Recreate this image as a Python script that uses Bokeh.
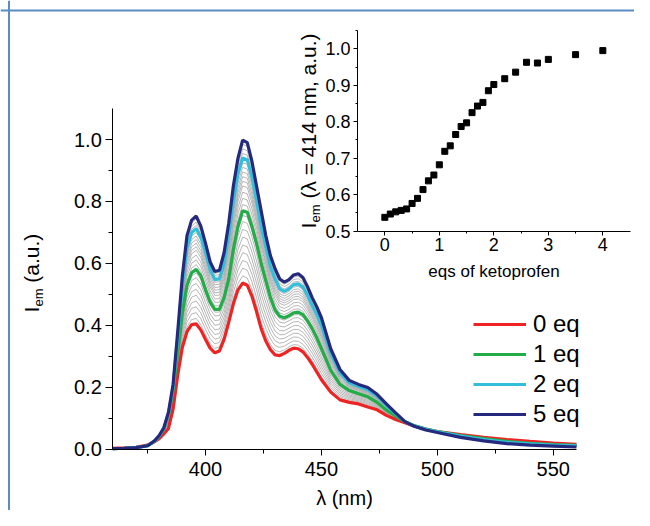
import numpy as np
from bokeh.plotting import figure
from bokeh.models import Range1d, LinearAxis, FixedTicker, Legend, LegendItem, Label, Span
from bokeh.embed import file_html
from bokeh.resources import INLINE

# ---------------- data ----------------
wavelength = [360, 365, 370, 375, 378,
              380, 382, 384, 386, 388, 390, 392, 394, 396, 398,
              400, 402, 404, 406, 408, 410, 412, 414, 416, 418,
              420, 422, 424, 426, 428, 430, 432, 434, 436, 438,
              440, 442, 444, 446, 448, 450,
              454, 458, 462, 466, 470, 474, 478, 482, 486, 490,
              495, 500, 510, 520, 530, 540, 550, 560]

em_0eq = [0.004, 0.005, 0.007, 0.014, 0.025,
          0.035, 0.050, 0.068, 0.130, 0.240, 0.330, 0.380, 0.403, 0.405, 0.385,
          0.355, 0.327, 0.312, 0.318, 0.355, 0.410, 0.470, 0.515, 0.537, 0.530,
          0.495, 0.445, 0.390, 0.350, 0.322, 0.305, 0.303, 0.310, 0.320, 0.327,
          0.325, 0.315, 0.297, 0.275, 0.250, 0.225,
          0.185, 0.160, 0.152, 0.147, 0.137, 0.128, 0.110, 0.097, 0.086, 0.076,
          0.066, 0.058, 0.048, 0.039, 0.032, 0.026, 0.021, 0.017]

em_1eq = [0.003, 0.004, 0.006, 0.012, 0.026,
          0.042, 0.065, 0.110, 0.190, 0.310, 0.440, 0.530, 0.570, 0.581, 0.560,
          0.515, 0.475, 0.452, 0.452, 0.490, 0.550, 0.645, 0.720, 0.770, 0.765,
          0.720, 0.665, 0.600, 0.545, 0.490, 0.450, 0.430, 0.425, 0.432, 0.441,
          0.443, 0.435, 0.415, 0.390, 0.360, 0.325,
          0.255, 0.210, 0.190, 0.180, 0.170, 0.152, 0.127, 0.108, 0.090, 0.077,
          0.066, 0.058, 0.045, 0.035, 0.026, 0.020, 0.016, 0.013]

em_2eq = [0.003, 0.004, 0.006, 0.012, 0.027,
          0.044, 0.068, 0.115, 0.200, 0.360, 0.530, 0.650, 0.700, 0.712, 0.685,
          0.635, 0.580, 0.548, 0.550, 0.600, 0.690, 0.800, 0.890, 0.940, 0.935,
          0.880, 0.805, 0.720, 0.655, 0.590, 0.550, 0.518, 0.510, 0.518, 0.532,
          0.534, 0.524, 0.497, 0.465, 0.435, 0.400,
          0.310, 0.248, 0.215, 0.203, 0.193, 0.172, 0.142, 0.115, 0.090, 0.076,
          0.065, 0.057, 0.043, 0.032, 0.023, 0.018, 0.014, 0.012]

em_5eq = [0.003, 0.004, 0.006, 0.012, 0.028,
          0.045, 0.070, 0.120, 0.210, 0.380, 0.560, 0.690, 0.740, 0.753, 0.720,
          0.665, 0.605, 0.574, 0.578, 0.635, 0.730, 0.850, 0.940, 0.998, 0.990,
          0.930, 0.850, 0.770, 0.690, 0.625, 0.583, 0.550, 0.540, 0.548, 0.563,
          0.567, 0.555, 0.525, 0.490, 0.460, 0.425,
          0.325, 0.258, 0.223, 0.210, 0.200, 0.178, 0.147, 0.118, 0.090, 0.075,
          0.063, 0.055, 0.039, 0.028, 0.019, 0.014, 0.011, 0.008]

# main-peak heights of the intermediate (grey) titration spectra
grey_peaks = [0.56, 0.585, 0.61, 0.635, 0.66, 0.685, 0.71, 0.735, 0.755,
              0.79, 0.81, 0.83, 0.85, 0.865, 0.88, 0.895, 0.91, 0.925,
              0.955, 0.97, 0.985]

legend_labels = ["0 eq", "1 eq", "2 eq", "5 eq"]

# inset: titration curve
eqs = [0.0, 0.1, 0.2, 0.3, 0.4, 0.5, 0.6, 0.7, 0.8, 0.9, 1.0, 1.1, 1.2, 1.3,
       1.4, 1.5, 1.6, 1.7, 1.8, 1.9, 2.0, 2.2, 2.4, 2.6, 2.8, 3.0, 3.5, 4.0]
i414 = [0.538, 0.547, 0.553, 0.557, 0.561, 0.576, 0.590, 0.614, 0.638, 0.654,
        0.682, 0.719, 0.734, 0.765, 0.787, 0.797, 0.825, 0.843, 0.853, 0.885,
        0.902, 0.918, 0.936, 0.963, 0.961, 0.971, 0.984, 0.995]

main_xticks = [400, 450, 500, 550]
main_xminor = [375, 425, 475, 525]
main_yticks = [0.0, 0.2, 0.4, 0.6, 0.8, 1.0]
main_yminor = [0.1, 0.3, 0.5, 0.7, 0.9]
inset_xticks = [0, 1, 2, 3, 4]
inset_xminor = [0.5, 1.5, 2.5, 3.5]
inset_yticks = [0.5, 0.6, 0.7, 0.8, 0.9, 1.0]
inset_yminor = [0.55, 0.65, 0.75, 0.85, 0.95, 1.05]

# ---------------- figure ----------------
FONT = "Liberation Sans"
colors = ["#ee2424", "#22ad48", "#33bfd9", "#262a7e"]

# the frame fills the whole canvas; every axis is placed with fixed_location
p = figure(width=634, height=510, output_backend="svg", toolbar_location=None,
           x_range=Range1d(311.55, 585.05), y_range=Range1d(-0.1968, 1.4484),
           min_border=0, x_axis_type=None, y_axis_type=None)
p.outline_line_color = None
p.background_fill_color = "white"
p.border_fill_color = "white"
p.xgrid.visible = False
p.ygrid.visible = False
p.extra_x_ranges = {"ix": Range1d(-7.052, 4.581)}
p.extra_y_ranges = {"iy": Range1d(-0.2657, 1.1324)}

# thin blue page frame (top and left)
p.add_layout(Span(location=1.4161, dimension="width", line_color="#5b8cc4", line_width=2))
p.add_layout(Span(location=315.22, dimension="height", line_color="#5b8cc4", line_width=2))


def style_axis(ax, fsize, major_out, minor_out):
    ax.axis_line_color = "black"
    ax.axis_line_width = 1
    ax.major_tick_line_color = "black"
    ax.minor_tick_line_color = "black"
    ax.major_tick_in = 0
    ax.minor_tick_in = 0
    ax.major_tick_out = major_out
    ax.minor_tick_out = minor_out
    ax.major_label_text_font = FONT
    ax.major_label_text_font_size = fsize
    ax.major_label_text_color = "black"
    ax.axis_label_text_font = FONT
    ax.axis_label_text_font_style = "normal"
    ax.axis_label_text_color = "black"


xa = LinearAxis(fixed_location=0.0, bounds=(360, 560),
                ticker=FixedTicker(ticks=main_xticks, minor_ticks=main_xminor),
                axis_label="λ (nm)")
style_axis(xa, "20px", 6, 4)
xa.axis_label_text_font_size = "20px"
xa.major_label_standoff = 7
xa.axis_label_standoff = 7
p.add_layout(xa, "below")

ya = LinearAxis(fixed_location=360, bounds=(0, 1.1),
                ticker=FixedTicker(ticks=main_yticks, minor_ticks=main_yminor))
style_axis(ya, "20px", 7, 4)
ya.major_label_standoff = 4
ya.major_label_overrides = {t: f"{t:.1f}" for t in main_yticks}
p.add_layout(ya, "left")

# inset axes
ixa = LinearAxis(x_range_name="ix", y_range_name="iy", fixed_location=0.5,
                 bounds=(-0.5, 4.5),
                 ticker=FixedTicker(ticks=inset_xticks, minor_ticks=inset_xminor),
                 axis_label="eqs of ketoprofen")
style_axis(ixa, "18px", 4, 2)
ixa.axis_label_text_font_size = "17px"
ixa.major_label_standoff = 3
ixa.axis_label_standoff = 7
p.add_layout(ixa, "below")

iya = LinearAxis(x_range_name="ix", y_range_name="iy", fixed_location=-0.5,
                 bounds=(0.5, 1.05),
                 ticker=FixedTicker(ticks=inset_yticks, minor_ticks=inset_yminor))
style_axis(iya, "18px", 4, 2)
iya.major_label_standoff = 3
iya.major_label_overrides = {t: f"{t:.1f}" for t in inset_yticks}
p.add_layout(iya, "left")

# ---------------- spectra ----------------
wl = np.array(wavelength)
series = [np.array(s) for s in (em_0eq, em_1eq, em_2eq, em_5eq)]
ipk = wavelength.index(416)
pk = [s[ipk] for s in series]
for h in grey_peaks:
    for k in range(3):
        if pk[k] <= h <= pk[k + 1]:
            t = (h - pk[k]) / (pk[k + 1] - pk[k])
            ys = series[k] * (1 - t) + series[k + 1] * t
            p.line(wl, ys, line_color="#a3a3a3", line_width=0.8)
            break

items = []
for s, c, lab in zip(series, colors, legend_labels):
    r = p.line(wl, s, line_color=c, line_width=3.2)
    items.append(LegendItem(label=lab, renderers=[r]))

legend = Legend(items=items, location=(473, 81), padding=0, margin=0, spacing=0,
                glyph_width=53, glyph_height=30, label_height=30, label_standoff=7,
                label_text_font=FONT, label_text_font_size="24px",
                label_text_color="black",
                border_line_alpha=0, background_fill_alpha=0)
p.add_layout(legend, "center")

# inset markers
p.scatter(eqs, i414, x_range_name="ix", y_range_name="iy", marker="square",
          size=6, fill_color="black", line_color="black")

# ---------------- y-axis titles with subscripts ----------------
def add_label(x, y, text, size):
    p.add_layout(Label(x=x, y=y, text=text, angle=np.pi / 2, text_font=FONT,
                       text_font_size=size, text_color="black",
                       text_baseline="alphabetic", text_align="left"))

# main y title  (data coords of the main ranges)
add_label(325.0, 0.4419, "I", "21px")
add_label(328.1, 0.4613, "em", "13px")
add_label(325.0, 0.5381, "(a.u.)", "21px")

# inset y title
add_label(444.5, 0.713, "I", "21px")
add_label(447.6, 0.7325, "em", "13px")
add_label(444.5, 0.8095, "(λ = 414 nm, a.u.)", "21px")

open("out.html", "w").write(file_html(p, INLINE))
